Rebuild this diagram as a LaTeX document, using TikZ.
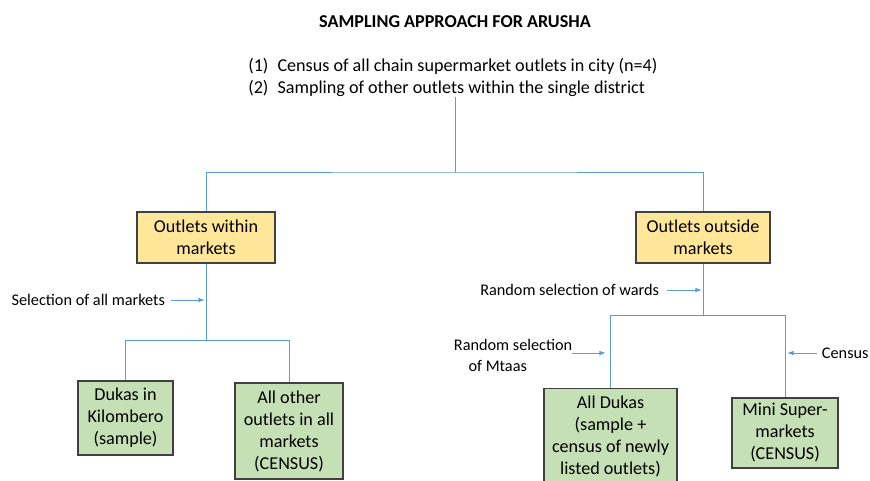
\documentclass[tikz,border=0pt]{standalone}
\usepackage{fontspec}
\setmainfont{Carlito}
\usetikzlibrary{arrows.meta}
\definecolor{lblue}{HTML}{5B9BD5}
\definecolor{yel}{HTML}{FFE699}
\definecolor{grn}{HTML}{C5E0B4}
\definecolor{bord}{HTML}{404040}
\tikzset{
  px/.style={x=0.75pt,y=-0.75pt},
  conn/.style={draw=lblue, line width=0.75pt},
  arr/.style={draw=lblue, line width=0.75pt, -{Latex[length=5pt,width=3.5pt]}},
  ybox/.style={draw=bord, fill=yel, line width=0.8pt, align=center, inner sep=0pt, font=\fontsize{13.6}{16.5}\selectfont},
  gbox/.style={draw=bord, fill=grn, line width=0.8pt, align=center, inner sep=0pt, font=\fontsize{13.6}{16.5}\selectfont},
  lbl/.style={font=\fontsize{12.2}{15.8}\selectfont, inner sep=2pt},
}
\begin{document}
\begin{tikzpicture}[px]
\useasboundingbox[fill=white] (0,0) rectangle (870,480);
\node[font=\bfseries\fontsize{13.6}{16}\selectfont] (title) at (455,22) {SAMPLING APPROACH FOR ARUSHA};
\node[anchor=west, align=left, inner sep=0pt, font=\fontsize{13.6}{16.5}\selectfont] (list) at (248,77)
  {(1)\enspace Census of all chain supermarket outlets in city (n=4)\\(2)\enspace Sampling of other outlets within the single district};
\coordinate (top) at (455,97);
\coordinate (jt) at (455,172);
\node[ybox, minimum width=103.5pt, minimum height=38.25pt] (b1) at (206,237.5) {Outlets within\\markets};
\node[ybox, minimum width=100.5pt, minimum height=38.25pt] (b2) at (703,237.5) {Outlets outside\\markets};
\draw[conn] (top) -- (jt);
\draw[conn] (b1.north) |- (jt) -| (b2.north);
% left branch
\coordinate (jl) at (206,340);
\node[gbox, minimum width=71.25pt, minimum height=55.5pt] (b3) at (125.5,418) {Dukas in\\Kilombero\\(sample)};
\node[gbox, minimum width=81pt, minimum height=72pt] (b4) at (289,431) {All other\\outlets in all\\markets\\(CENSUS)};
\draw[conn] (b1.south) -- (jl);
\draw[conn] (b3.north) |- (jl) -| (b4.north);
\node[lbl, anchor=east] (l1) at (168,300) {Selection of all markets};
\draw[arr] (l1.east) ++(3,0) -- (205,300);
% right branch
\coordinate (jr) at (703,315);
\node[gbox, minimum width=99.75pt, minimum height=72pt, anchor=north] (b5) at (610.5,388) {All Dukas\\(sample +\\census of newly\\listed outlets)};
\node[gbox, minimum width=79.5pt, minimum height=52.5pt] (b6) at (785,433) {Mini Super-\\markets\\(CENSUS)};
\draw[conn] (b2.south) -- (jr);
\draw[conn] (b5.north) |- (jr) -| (b6.north);
\node[lbl, anchor=east] (l2) at (662,290) {Random selection of wards};
\draw[arr] (l2.east) ++(5,0) -- (702,290);
\node[lbl, align=left, anchor=north west] (l3) at (451,336) {Random selection\\\hspace*{11pt}of Mtaas};
\coordinate (a3) at (606,353);
\draw[arr] (572,353) -- (a3);
\node[lbl, anchor=west] (l4) at (819,353) {Census};
\draw[arr] (l4.west) ++(-2,0) -- (787,353);
\end{tikzpicture}
\end{document}
